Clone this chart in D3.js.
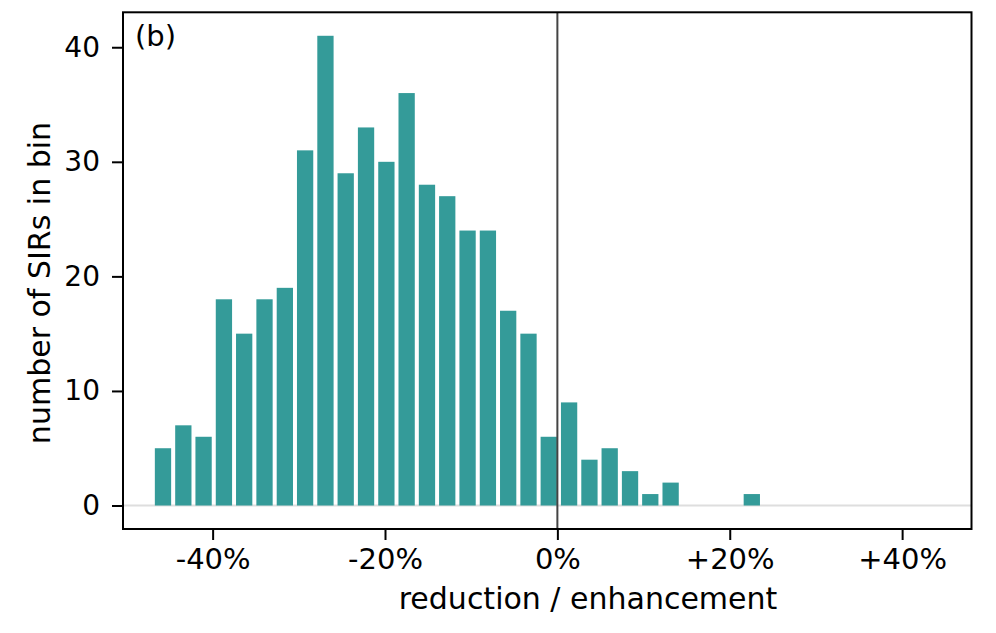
<!DOCTYPE html>
<html>
<head>
<meta charset="utf-8">
<script src="https://cdn.jsdelivr.net/npm/d3@7"></script>
<style>
  body { margin: 0; background: #fff; }
  text { font-family: "DejaVu Sans", sans-serif; fill: #000; }
</style>
</head>
<body>
<script>

//Data: bin centres (percent) and counts
var binCenters = [-45.76, -43.40, -41.05, -38.69, -36.34, -33.98, -31.62, -29.27, -26.91, -24.56,
                  -22.20, -19.84, -17.49, -15.13, -12.78, -10.42, -8.06, -5.71, -3.35, -1.00,
                  1.36, 3.72, 6.07, 8.43, 10.78, 13.14, 15.50, 17.85, 20.21, 22.56];
var binCounts = [5, 7, 6, 18, 15, 18, 19, 31, 41, 29,
                 33, 30, 36, 28, 27, 24, 24, 17, 15, 6,
                 9, 4, 5, 3, 1, 2, 0, 0, 0, 1];
var barWidth = 1.89;
var xTicks = [-40, -20, 0, 20, 40];
var yTicks = [0, 10, 20, 30, 40];

var data = binCenters.map(function(c, i) { return {center: c, count: binCounts[i]}; });

//Define SVG
var svg = d3.select("body")
    .append("svg")
    .attr("width", 996)
    .attr("height", 633);

var plotLeft = 123, plotRight = 971.5, plotTop = 12.3, plotBottom = 529;

//Define Scales
var xScale = d3.scaleLinear().domain([-50.4, 48.05]).range([plotLeft, plotRight]);
var yScale = d3.scaleLinear().domain([-2.05, 43.05]).range([plotBottom, plotTop]);

//Zero line
svg.append("line")
    .attr("x1", plotLeft).attr("x2", plotRight)
    .attr("y1", yScale(0)).attr("y2", yScale(0))
    .attr("stroke", "#dedede")
    .attr("stroke-width", 2);

//Bars
svg.selectAll(".bar")
    .data(data)
    .enter().append("rect")
    .attr("class", "bar")
    .attr("x", function(d) { return xScale(d.center - barWidth / 2); })
    .attr("width", function(d) { return xScale(d.center + barWidth / 2) - xScale(d.center - barWidth / 2); })
    .attr("y", function(d) { return yScale(d.count); })
    .attr("height", function(d) { return yScale(0) - yScale(d.count); })
    .attr("fill", "#349b99");

//Vertical line at 0%
svg.append("line")
    .attr("x1", xScale(0)).attr("x2", xScale(0))
    .attr("y1", plotTop).attr("y2", plotBottom)
    .attr("stroke", "#444")
    .attr("stroke-width", 2);

//Frame
svg.append("rect")
    .attr("x", plotLeft).attr("y", plotTop)
    .attr("width", plotRight - plotLeft).attr("height", plotBottom - plotTop)
    .attr("fill", "none")
    .attr("stroke", "#000")
    .attr("stroke-width", 2);

//X-axis
var xAxis = d3.axisBottom(xScale)
    .tickValues(xTicks)
    .tickSize(11)
    .tickPadding(8)
    .tickFormat(function(d) { return (d > 0 ? "+" : "") + d + "%"; });

var gX = svg.append("g")
    .attr("transform", "translate(0," + plotBottom + ")")
    .call(xAxis);
gX.select(".domain").remove();
gX.selectAll(".tick line").attr("stroke", "#000").attr("stroke-width", 2);
gX.selectAll(".tick text")
    .attr("font-family", "DejaVu Sans")
    .attr("font-size", "29px")
    .attr("fill", "#000");

//Y-axis
var yAxis = d3.axisLeft(yScale)
    .tickValues(yTicks)
    .tickSize(11)
    .tickPadding(12);

var gY = svg.append("g")
    .attr("transform", "translate(" + plotLeft + ",0)")
    .call(yAxis);
gY.select(".domain").remove();
gY.selectAll(".tick line").attr("stroke", "#000").attr("stroke-width", 2);
gY.selectAll(".tick text")
    .attr("font-family", "DejaVu Sans")
    .attr("font-size", "28px")
    .attr("fill", "#000");

//Axis labels
svg.append("text")
    .attr("x", 588)
    .attr("y", 609)
    .style("text-anchor", "middle")
    .attr("font-size", "30px")
    .text("reduction / enhancement");

svg.append("text")
    .attr("transform", "translate(50,283) rotate(-90)")
    .style("text-anchor", "middle")
    .attr("font-size", "30px")
    .text("number of SIRs in bin");

//Panel label
svg.append("text")
    .attr("x", 135)
    .attr("y", 46)
    .attr("font-size", "29px")
    .text("(b)");

</script>
</body>
</html>
